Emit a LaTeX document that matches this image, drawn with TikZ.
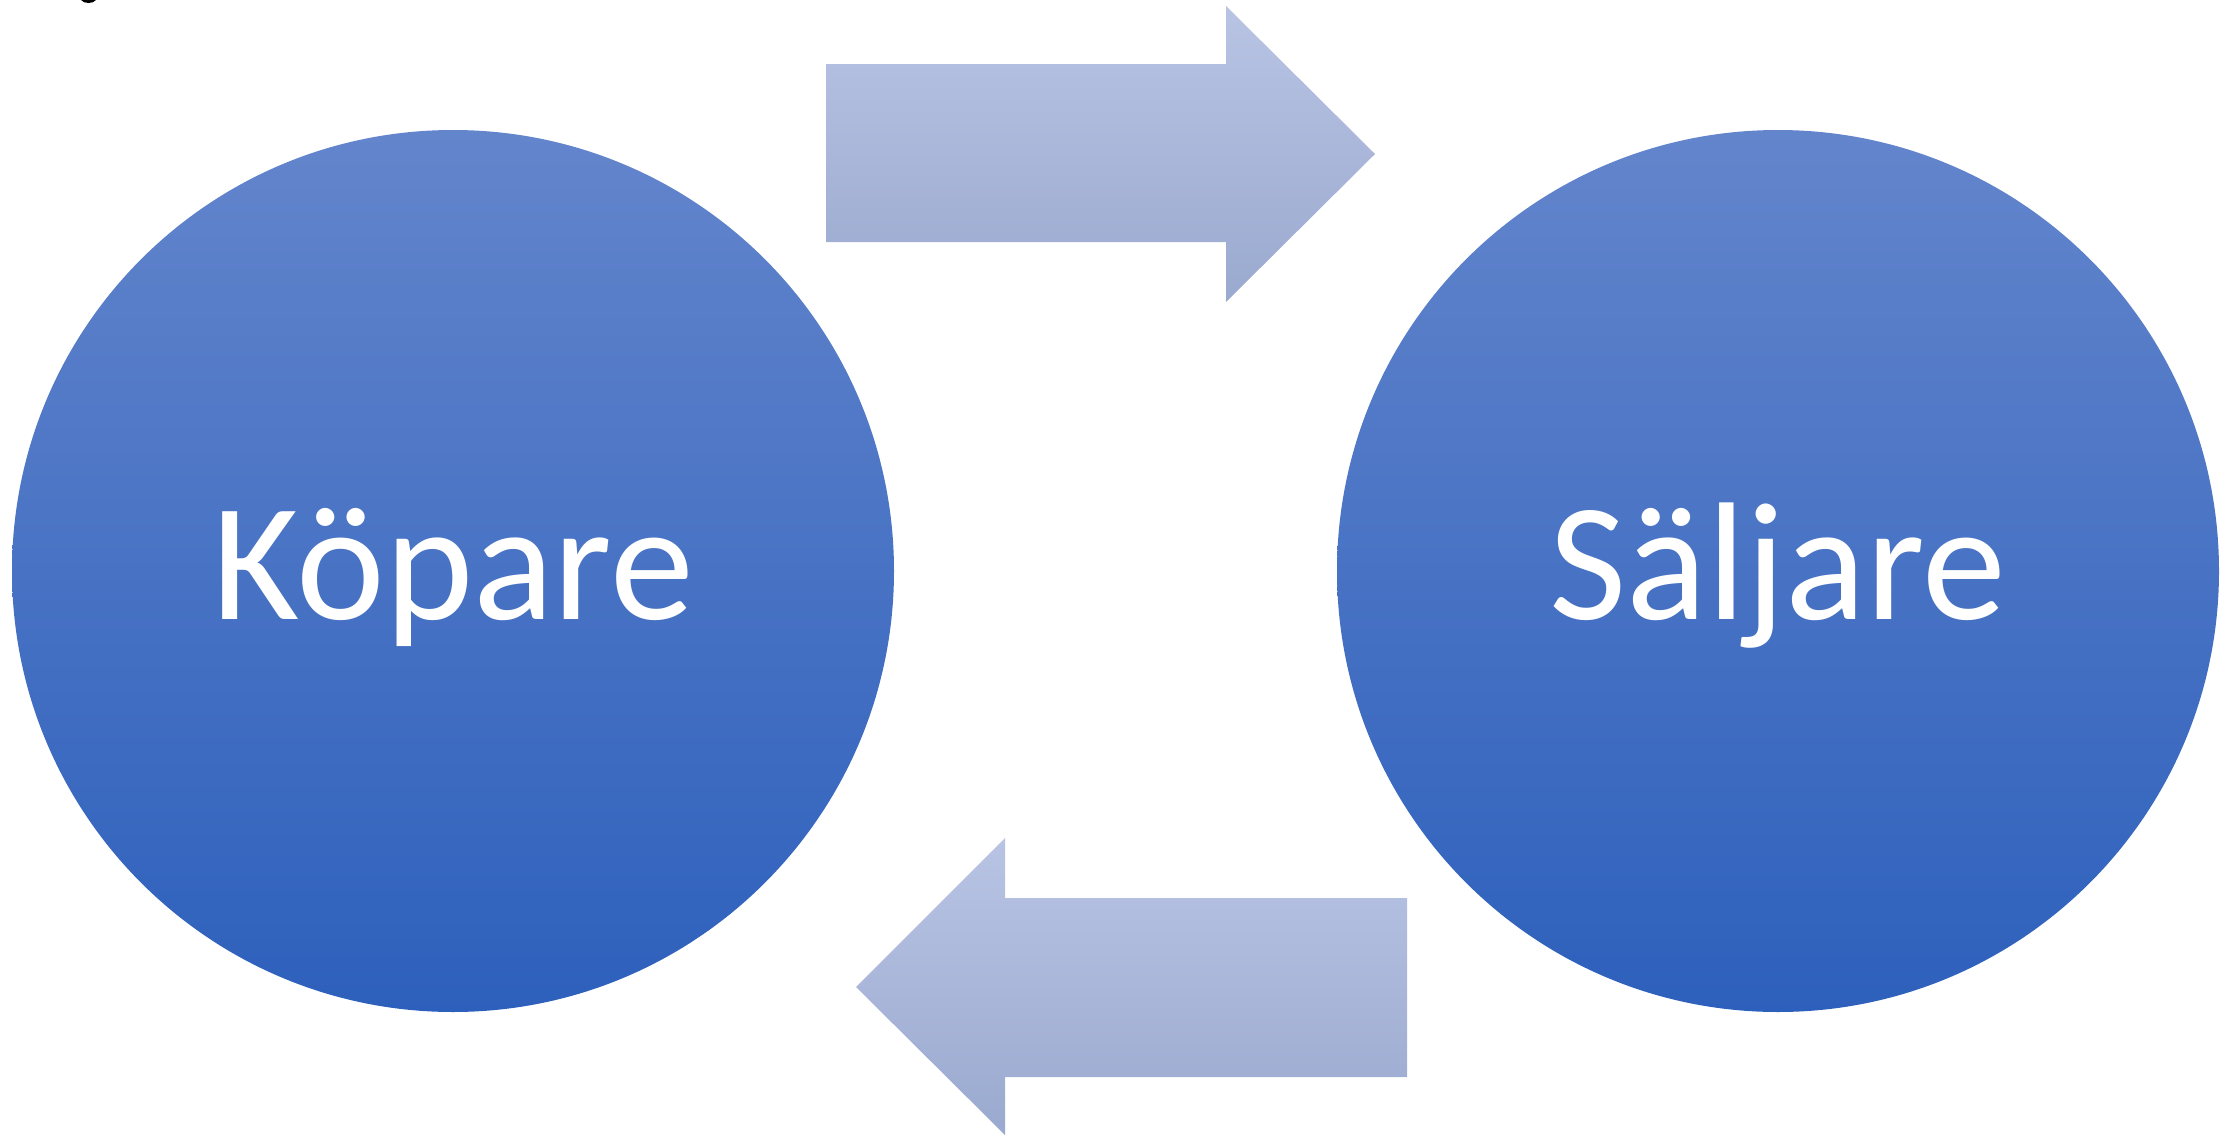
\documentclass[tikz,border=0pt]{standalone}
\usepackage{fontspec}
\usetikzlibrary{calc}
\setmainfont{Carlito}
\definecolor{circtop}{HTML}{6385CC}
\definecolor{circbot}{HTML}{2D60BC}
\definecolor{arrtop}{HTML}{B9C4E4}
\definecolor{arrbot}{HTML}{9AA9CF}
\tikzset{
  circfill/.style={top color=circtop, bottom color=circbot, draw=none},
  blockarrow/.style={top color=arrtop, bottom color=arrbot, draw=none},
  circlabel/.style={anchor=base, inner sep=0pt, text=white, font=\fontsize{168}{200}\selectfont}
}
\begin{document}
\begin{tikzpicture}[x=1pt,y=-1pt]
\useasboundingbox (0,0) rectangle (2236,1135);
% circles
\coordinate (kop) at (453,571);
\coordinate (salj) at (1778,571);
\shade[circfill] ($(kop)+(0,-441)$) arc[start angle=90, end angle=-270, radius=441pt] -- cycle;
\shade[circfill] ($(salj)+(0,-441)$) arc[start angle=90, end angle=-270, radius=441pt] -- cycle;
\node[circlabel] (koplabel) at (453,619) {Köpare};
\node[circlabel] (saljlabel) at (1778,619) {Säljare};
% top arrow (right)
\path[blockarrow] (826,64) -- (1226,64) -- (1226,6) -- (1375,154) -- (1226,302) -- (1226,242) -- (826,242) -- cycle;
% bottom arrow (left)
\path[blockarrow] (1407,898) -- (1005,898) -- (1005,838) -- (856,987) -- (1005,1135) -- (1005,1077) -- (1407,1077) -- cycle;
% small fragment at top left
\fill[black] (81,0) .. controls (84,4) and (93,4) .. (96,0) -- cycle;
\end{tikzpicture}
\end{document}
